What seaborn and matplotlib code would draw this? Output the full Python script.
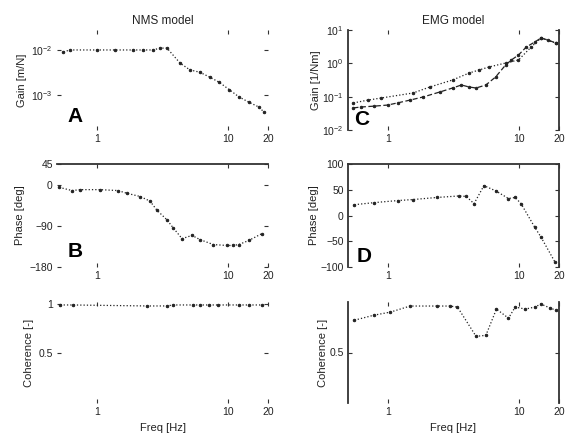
import numpy as np
import pandas as pd
import matplotlib
matplotlib.use("Agg")
import matplotlib.pyplot as plt
import seaborn as sns
from matplotlib.ticker import FixedLocator, NullLocator, FixedFormatter

sns.set_style("white")
plt.rcParams['font.family'] = ['Liberation Sans', 'DejaVu Sans']

# ---- NMS model (left column) ----
nms_gain_freq = [0.56, 0.63, 1.0, 1.38, 1.89, 2.25, 2.68, 3.03, 3.42, 4.30, 5.11, 6.07, 7.2, 8.55, 10.2, 12.0, 14.3, 17.0, 18.6]
nms_gain = [0.0091, 0.0100, 0.0100, 0.0100, 0.0100, 0.0100, 0.0100, 0.0110, 0.0110, 0.0051, 0.0036,
            0.0032, 0.0025, 0.0019, 0.0013, 0.00091, 0.00069, 0.00054, 0.00042]

nms_phase_freq = [0.52, 0.65, 0.75, 1.06, 1.45, 1.70, 2.14, 2.54, 2.87, 3.42, 3.80, 4.45, 5.30, 6.07,
                  7.7, 9.8, 10.8, 12.0, 14.3, 18.0]
nms_phase = [-6, -13, -11, -11, -13, -19, -26, -36, -56, -77, -94, -118, -111, -120,
             -131, -133, -133, -131, -122, -107]

nms_coh_freq = [0.53, 0.66, 2.41, 3.42, 3.80, 5.4, 6.07, 7.1, 8.3, 12.0, 14.3, 18.0]
nms_coh = [0.99, 0.99, 0.98, 0.98, 0.99, 0.99, 0.99, 0.99, 0.99, 0.99, 0.99, 0.99]

# ---- EMG model (right column) ----
emg_gain_freq = [0.55, 0.63, 0.79, 1.0, 1.19, 1.48, 1.86, 2.49, 3.11, 3.63, 4.16, 4.69, 5.57, 6.6,
                 7.86, 8.7, 9.85, 11.3, 13.1, 14.6, 16.5, 18.9]
emg_gain = [0.046, 0.049, 0.052, 0.056, 0.065, 0.079, 0.098, 0.138, 0.182, 0.224, 0.195, 0.182,
            0.224, 0.389, 0.891, 1.26, 1.78, 3.09, 4.37, 5.75, 5.01, 4.07]
emg_gain2_freq = [0.55, 0.71, 0.89, 1.56, 2.09, 3.11, 4.16, 4.94, 5.87, 7.86, 9.85, 12.3, 14.6, 18.9]
emg_gain2 = [0.065, 0.079, 0.091, 0.129, 0.195, 0.316, 0.513, 0.631, 0.776, 1.02, 1.26, 3.09, 5.75, 4.07]

emg_phase_freq = [0.56, 0.79, 1.19, 1.56, 2.36, 3.5, 3.95, 4.53, 5.38, 6.6, 8.27, 9.3, 10.3, 13.1, 14.6, 18.6]
emg_phase = [21, 25, 29, 31, 35, 38, 37, 23, 58, 48, 33, 35, 23, -23, -42, -90]

emg_coh_freq = [0.56, 0.79, 1.05, 1.48, 2.36, 2.95, 3.39, 4.69, 5.57, 6.7, 8.27, 9.3, 11.1, 13.1, 14.6, 17.1, 18.9]
emg_coh = [0.82, 0.87, 0.90, 0.96, 0.96, 0.96, 0.95, 0.66, 0.67, 0.93, 0.84, 0.95, 0.93, 0.95, 0.98, 0.94, 0.92]

xtick_vals = [1, 10, 20]
xtick_labels = ["1", "10", "20"]

fig = plt.figure(figsize=(5.69, 4.36), dpi=100)

W = 211 / 569
lefts = [57 / 569, 348 / 569]
rows = [(30, 130), (164, 267), (302, 403)]

def make_ax(col, row):
    t, b = rows[row]
    return fig.add_axes([lefts[col], 1 - b / 436, W, (b - t) / 436])

def style(ax, visible_spines):
    ax.set_xscale("log")
    ax.set_xlim(0.5, 20)
    ax.xaxis.set_major_locator(FixedLocator(xtick_vals))
    ax.xaxis.set_major_formatter(FixedFormatter(xtick_labels))
    ax.xaxis.set_minor_locator(NullLocator())
    ax.tick_params(axis="both", which="both", direction="in", length=3, width=0.8,
                   top=True, right=True, bottom=True, left=True, labelsize=7.5, pad=3,
                   color="#333333", labelcolor="#222222")
    for s in ["left", "right", "top", "bottom"]:
        ax.spines[s].set_visible(s in visible_spines)
        ax.spines[s].set_color("#333333")
        ax.spines[s].set_linewidth(1.3)
    ax.set_xlabel("")

def draw(ax, x, y, ls=":"):
    df = pd.DataFrame({"f": x, "v": y})
    sns.lineplot(data=df, x="f", y="v", ax=ax, estimator=None, sort=False,
                 color="#222222", linestyle=ls, linewidth=0.9, marker=".", markersize=3.5,
                 markeredgecolor="#222222")

lab_kw = dict(fontsize=8, color="#222222")
letter_kw = dict(fontsize=15, fontweight="bold", color="black")

# A
ax = make_ax(0, 0)
draw(ax, nms_gain_freq, nms_gain)
style(ax, [])
ax.set_yscale("log")
ax.set_ylim(10 ** -3.78, 10 ** -1.556)
ax.yaxis.set_major_locator(FixedLocator([1e-3, 1e-2]))
ax.yaxis.set_minor_locator(NullLocator())
ax.set_ylabel("Gain [m/N]", labelpad=3, **lab_kw)
ax.set_title("NMS model", fontsize=8.5, color="#222222", pad=4)
ax.text(0.05, 0.08, "A", transform=ax.transAxes, **letter_kw)

# B
ax = make_ax(0, 1)
draw(ax, nms_phase_freq, nms_phase)
style(ax, ["top"])
ax.set_ylim(-180, 45)
ax.set_yticks([-180, -90, 0, 45])
ax.set_ylabel("Phase [deg]", labelpad=3, **lab_kw)
ax.text(0.05, 0.1, "B", transform=ax.transAxes, **letter_kw)

# Coherence left
ax = make_ax(0, 2)
draw(ax, nms_coh_freq, nms_coh)
style(ax, [])
ax.set_ylim(0, 1.02)
ax.set_yticks([0.5, 1])
ax.set_yticklabels(["0.5", "1"])
ax.set_ylabel("Coherence [-]", labelpad=3, **lab_kw)
ax.set_xlabel("Freq [Hz]", **lab_kw)

# C
ax = make_ax(1, 0)
draw(ax, emg_gain2_freq, emg_gain2, ls=":")
draw(ax, emg_gain_freq, emg_gain, ls=(0, (4, 2)))
style(ax, ["left", "right"])
ax.set_yscale("log")
ax.set_ylim(1e-2, 1e1)
ax.yaxis.set_major_locator(FixedLocator([1e-2, 1e-1, 1e0, 1e1]))
ax.yaxis.set_minor_locator(NullLocator())
ax.set_ylabel("Gain [1/Nm]", labelpad=1, **lab_kw)
ax.set_title("EMG model", fontsize=8.5, color="#222222", pad=4)
ax.text(0.03, 0.05, "C", transform=ax.transAxes, **letter_kw)

# D
ax = make_ax(1, 1)
draw(ax, emg_phase_freq, emg_phase)
style(ax, ["left", "right", "top"])
ax.set_ylim(-100, 100)
ax.set_yticks([-100, -50, 0, 50, 100])
ax.set_ylabel("Phase [deg]", labelpad=1, **lab_kw)
ax.text(0.04, 0.05, "D", transform=ax.transAxes, **letter_kw)

# Coherence right
ax = make_ax(1, 2)
draw(ax, emg_coh_freq, emg_coh)
style(ax, ["left", "right"])
ax.set_ylim(0, 1.0)
ax.set_yticks([0.5])
ax.set_yticklabels(["0.5"])
ax.set_ylabel("Coherence [-]", labelpad=1, **lab_kw)
ax.set_xlabel("Freq [Hz]", **lab_kw)

fig.savefig("out.png", dpi=100, facecolor="white")
